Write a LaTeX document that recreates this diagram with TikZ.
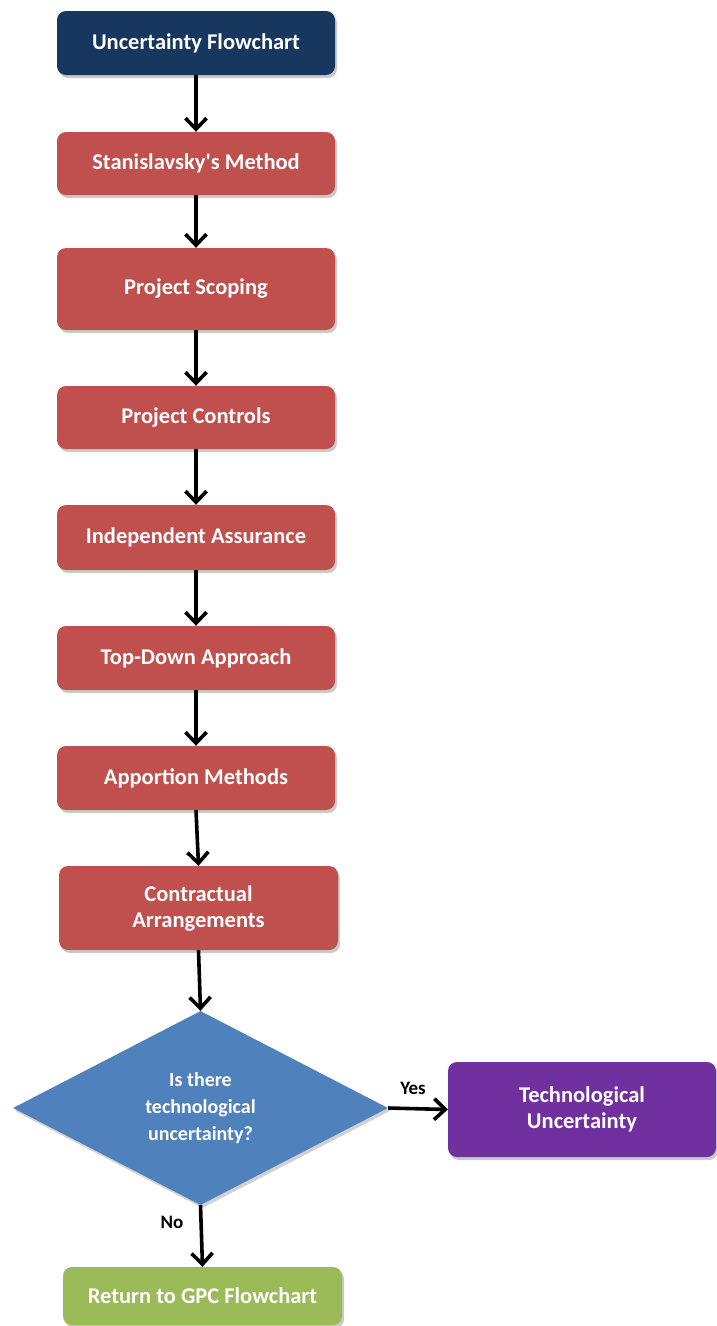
\documentclass[tikz,border=0pt]{standalone}
\usepackage{fontspec}
\setmainfont{Carlito}
\usetikzlibrary{shapes.geometric,arrows.meta,shadows}

\definecolor{navybox}{HTML}{17375E}
\definecolor{redbox}{HTML}{C0504D}
\definecolor{bluebox}{HTML}{4F81BD}
\definecolor{purplebox}{HTML}{7030A0}
\definecolor{greenbox}{HTML}{9BBB59}

\tikzset{
  stepbox/.style={rectangle, rounded corners=9pt, draw=none, text=white,
    font=\fontsize{22.5}{26}\selectfont\bfseries, align=center, inner sep=0pt,
    minimum width=278pt, minimum height=64pt,
    drop shadow={shadow xshift=2pt, shadow yshift=-3pt, opacity=0.35, fill=black!60}},
  decision/.style={diamond, draw=none, fill=bluebox, text=white,
    font=\fontsize{20}{27}\selectfont\bfseries, align=center, inner sep=0pt,
    aspect=1.93, minimum width=375pt, minimum height=194pt,
    drop shadow={shadow xshift=2pt, shadow yshift=-3pt, opacity=0.3, fill=black!60}},
  flowline/.style={line width=3.6pt, draw=black,
    -{Straight Barb[length=11pt, width=21pt, line width=3.6pt]}},
  edgelabel/.style={font=\fontsize{19}{22}\selectfont\bfseries, text=black, inner sep=0pt}
}

\begin{document}
\begin{tikzpicture}[x=1pt, y=-1pt]
  \useasboundingbox (0,0) rectangle (717,1326);

  % main chain of steps
  \node[stepbox, fill=navybox]                    (start)    at (196,43)    {Uncertainty Flowchart};
  \node[stepbox, fill=redbox, minimum height=63pt] (stan)     at (196,163.5) {Stanislavsky\textquotesingle s Method};
  \node[stepbox, fill=redbox, minimum height=82pt] (scope)    at (196,289)   {Project Scoping};
  \node[stepbox, fill=redbox, minimum height=63pt] (controls) at (196,417.5) {Project Controls};
  \node[stepbox, fill=redbox, minimum height=65pt] (assure)   at (196,537.5) {Independent Assurance};
  \node[stepbox, fill=redbox]                      (topdown)  at (196,658)   {Top-Down Approach};
  \node[stepbox, fill=redbox]                      (apport)   at (196,778)   {Apportion Methods};
  \node[stepbox, fill=redbox, minimum width=279pt, minimum height=84pt]
                                                   (contract) at (198.5,908) {Contractual\\Arrangements};

  % decision and its outcomes
  \node[decision] (question) at (200.5,1108) {Is there\\technological\\uncertainty?};
  \node[stepbox, fill=purplebox, minimum width=268pt, minimum height=95pt]
                  (techunc) at (582,1109.5) {Technological\\Uncertainty};
  \node[stepbox, fill=greenbox, minimum width=279pt, minimum height=58pt]
                  (back) at (202.5,1296) {Return to GPC Flowchart};

  % connectors
  \draw[flowline] (start.south)    -- (stan.north);
  \draw[flowline] (stan.south)     -- (scope.north);
  \draw[flowline] (scope.south)    -- (controls.north);
  \draw[flowline] (controls.south) -- (assure.north);
  \draw[flowline] (assure.south)   -- (topdown.north);
  \draw[flowline] (topdown.south)  -- (apport.north);
  \draw[flowline] (apport.south)   -- (contract.north);
  \draw[flowline] (contract.south) -- (question.north);
  \draw[flowline] (question.east)  -- (techunc.west);
  \draw[flowline] (question.south) -- (back.north);

  % branch labels
  \node[edgelabel] (yes) at (413,1088) {Yes};
  \node[edgelabel] (no)  at (172,1222) {No};
\end{tikzpicture}
\end{document}
